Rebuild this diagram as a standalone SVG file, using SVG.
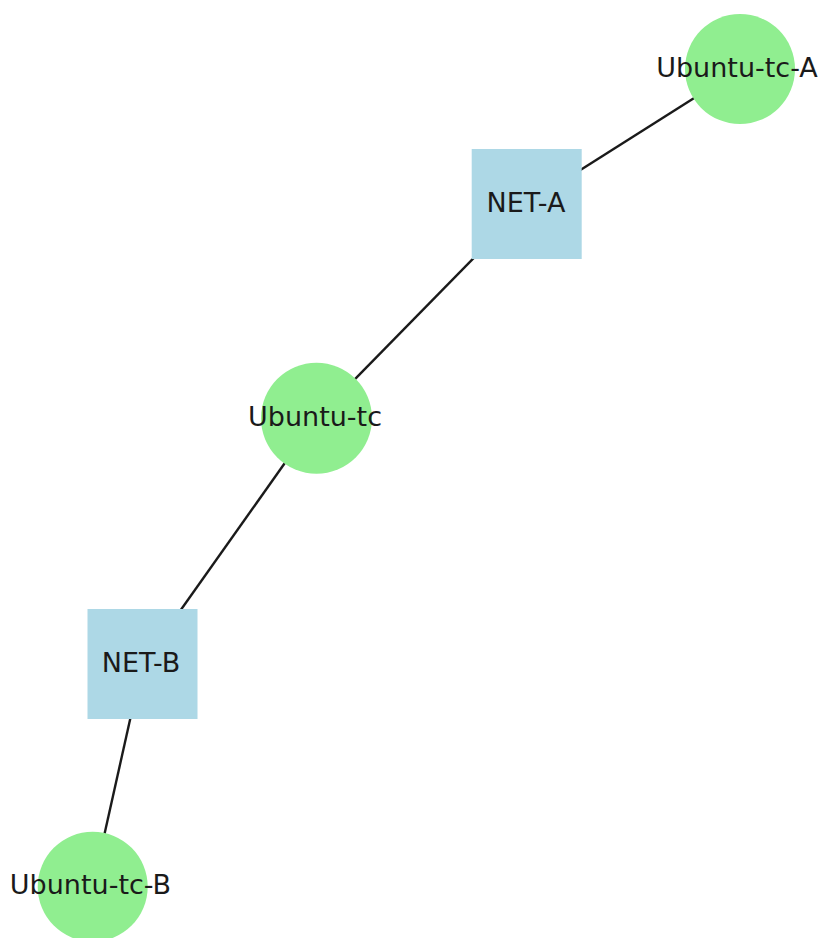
<svg xmlns="http://www.w3.org/2000/svg" width="821" height="938" viewBox="0 0 821 938">
<style>
.edge{stroke:#1a1a1a;stroke-width:2.4;fill:none}
.host{fill:#90ee90}
.net{fill:#add8e6}
.lbl{font-family:"DejaVu Sans",sans-serif;font-size:27px;fill:#1a1a1a;text-anchor:middle}
</style>
<rect width="821" height="938" fill="#ffffff"/>
<g id="edges">
<line class="edge" x1="740" y1="69" x2="526.7" y2="204"/>
<line class="edge" x1="526.7" y1="204" x2="316.5" y2="418.3"/>
<line class="edge" x1="316.5" y1="418.3" x2="142.5" y2="664"/>
<line class="edge" x1="142.5" y1="664" x2="92.7" y2="886.7"/>
</g>
<g id="Ubuntu-tc-A">
<circle class="host" cx="740" cy="69" r="55"/>
<text class="lbl" x="737" y="77">Ubuntu-tc-A</text>
</g>
<g id="NET-A">
<rect class="net" x="471.7" y="149" width="110" height="110"/>
<text class="lbl" x="526" y="211.5">NET-A</text>
</g>
<g id="Ubuntu-tc">
<circle class="host" cx="316.5" cy="418.3" r="55.5"/>
<text class="lbl" x="315" y="426">Ubuntu-tc</text>
</g>
<g id="NET-B">
<rect class="net" x="87.5" y="609" width="110" height="110"/>
<text class="lbl" x="141" y="671.5">NET-B</text>
</g>
<g id="Ubuntu-tc-B">
<circle class="host" cx="92.7" cy="886.7" r="55"/>
<text class="lbl" x="90.5" y="894">Ubuntu-tc-B</text>
</g>
</svg>
